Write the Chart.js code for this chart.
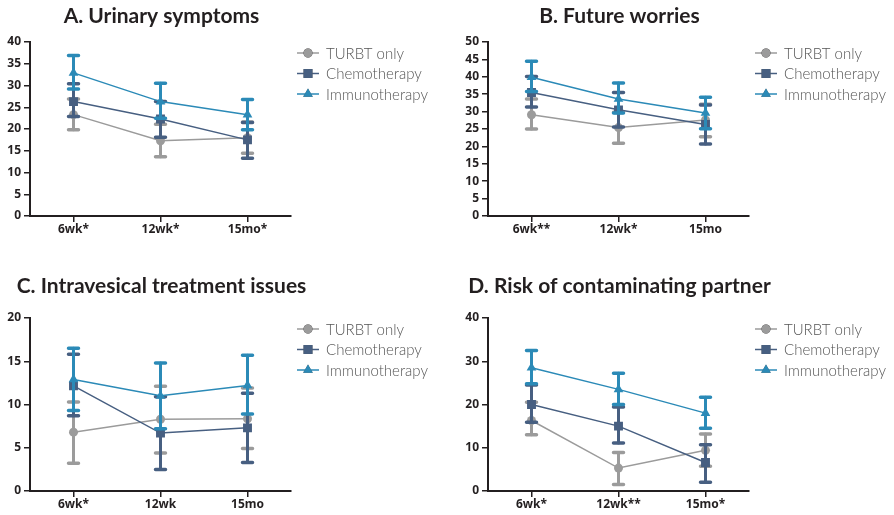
<!DOCTYPE html>
<html>
<head>
<meta charset="utf-8">
<script src="https://cdn.jsdelivr.net/npm/chart.js@4.4.1/dist/chart.umd.min.js"></script>
<style>
  html, body { margin: 0; padding: 0; background: #fff; }
  #wrap { position: relative; width: 894px; height: 515px; }
  .panel { position: absolute; width: 447px; }
  .panel canvas { display: block; }
</style>
</head>
<body>
<div id="wrap">
  <div class="panel" style="left:0;top:0;height:258px"><canvas id="chartA"></canvas></div>
  <div class="panel" style="left:447px;top:0;height:258px"><canvas id="chartB"></canvas></div>
  <div class="panel" style="left:0;top:258px;height:257px"><canvas id="chartC"></canvas></div>
  <div class="panel" style="left:447px;top:258px;height:257px"><canvas id="chartD"></canvas></div>
</div>
<script>
const seriesNames = ['TURBT only', 'Chemotherapy', 'Immunotherapy'];
const seriesColors = ['#9b9b9b', '#475f81', '#2b8ab7'];
const seriesMarkers = ['circle', 'rect', 'triangle'];

// A. Urinary symptoms
const labelsA = ['6wk*', '12wk*', '15mo*'];
const urinaryTurbt = [23.3, 17.3, 18.0];
const urinaryTurbtLow = [19.8, 13.6, 14.4];
const urinaryTurbtHigh = [26.9, 21.1, 21.6];
const urinaryChemo = [26.3, 22.3, 17.5];
const urinaryChemoLow = [22.9, 18.1, 13.3];
const urinaryChemoHigh = [30.4, 26.3, 21.5];
const urinaryImmuno = [32.9, 26.3, 23.3];
const urinaryImmunoLow = [29.2, 22.5, 19.8];
const urinaryImmunoHigh = [36.9, 30.5, 26.8];

// B. Future worries
const labelsB = ['6wk**', '12wk*', '15mo'];
const worriesTurbt = [29.1, 25.4, 27.6];
const worriesTurbtLow = [25.0, 20.9, 22.8];
const worriesTurbtHigh = [33.6, 29.8, 32.1];
const worriesChemo = [35.5, 30.5, 26.3];
const worriesChemoLow = [31.3, 25.6, 20.7];
const worriesChemoHigh = [40.1, 35.5, 31.9];
const worriesImmuno = [39.9, 33.6, 29.6];
const worriesImmunoLow = [35.8, 29.6, 25.1];
const worriesImmunoHigh = [44.5, 38.2, 34.1];

// C. Intravesical treatment issues
const labelsC = ['6wk*', '12wk', '15mo'];
const intraTurbt = [6.8, 8.3, 8.35];
const intraTurbtLow = [3.2, 4.4, 4.9];
const intraTurbtHigh = [10.3, 12.1, 11.9];
const intraChemo = [12.15, 6.7, 7.3];
const intraChemoLow = [8.7, 2.5, 3.3];
const intraChemoHigh = [15.8, 10.9, 11.3];
const intraImmuno = [12.9, 11.0, 12.2];
const intraImmunoLow = [9.3, 7.2, 8.9];
const intraImmunoHigh = [16.5, 14.8, 15.7];

// D. Risk of contaminating partner
const labelsD = ['6wk*', '12wk**', '15mo*'];
const riskTurbt = [16.3, 5.3, 9.4];
const riskTurbtLow = [13.0, 1.5, 5.7];
const riskTurbtHigh = [20.5, 8.9, 13.2];
const riskChemo = [20.0, 15.0, 6.6];
const riskChemoLow = [15.9, 11.1, 2.0];
const riskChemoHigh = [24.5, 19.4, 10.7];
const riskImmuno = [28.5, 23.5, 18.0];
const riskImmunoLow = [24.8, 20.0, 14.5];
const riskImmunoHigh = [32.5, 27.2, 21.7];

const inkColor = '#231f20';

// error bars are drawn just before each dataset's own line + markers
const errorBarPlugin = {
    id: 'errorBars',
    beforeDatasetDraw(chart, args) {
        const ds = chart.data.datasets[args.index];
        if (!ds.errLow) return;
        const yScale = chart.scales.y;
        const ctx = chart.ctx;
        ctx.save();
        ctx.strokeStyle = ds.borderColor;
        ctx.lineCap = 'round';
        args.meta.data.forEach((pt, i) => {
            const yLo = yScale.getPixelForValue(ds.errLow[i]);
            const yHi = yScale.getPixelForValue(ds.errHigh[i]);
            ctx.lineWidth = 3;
            ctx.beginPath();
            ctx.moveTo(pt.x, yLo);
            ctx.lineTo(pt.x, yHi);
            ctx.stroke();
            ctx.lineWidth = 3.5;
            ctx.beginPath();
            ctx.moveTo(pt.x - 5, yLo);
            ctx.lineTo(pt.x + 5, yLo);
            ctx.moveTo(pt.x - 5, yHi);
            ctx.lineTo(pt.x + 5, yHi);
            ctx.stroke();
        });
        ctx.restore();
    }
};

// panel title (centred over plot area) and legend to the right of it
const panelDecorPlugin = {
    id: 'panelDecor',
    afterDraw(chart, args, opts) {
        const ctx = chart.ctx;
        const area = chart.chartArea;
        ctx.save();
        ctx.fillStyle = inkColor;
        ctx.font = 'bold 21px Lato';
        ctx.textAlign = 'center';
        ctx.textBaseline = 'alphabetic';
        ctx.fillText(opts.title, (area.left + area.right) / 2 + 1, area.top - opts.titleGap);

        const x0 = area.right + 6;
        [0, 1, 2].forEach((k, row) => {
            const ds = chart.data.datasets[k];
            const y = area.top + 11 + row * 20.5;
            ctx.strokeStyle = ds.borderColor;
            ctx.lineWidth = 1.5;
            ctx.beginPath();
            ctx.moveTo(x0, y);
            ctx.lineTo(x0 + 22, y);
            ctx.stroke();
            Chart.helpers.drawPoint(ctx, {
                pointStyle: ds.pointStyle,
                radius: ds.pointRadius,
                borderWidth: 0
            }, x0 + 11, y);
            ctx.fillStyle = ds.borderColor;
            ctx.fill();
            ctx.fillStyle = '#555555';
            ctx.font = '300 15px Lato';
            ctx.textAlign = 'left';
            ctx.textBaseline = 'middle';
            ctx.fillText(ds.label, x0 + 29, y + 1);
        });
        ctx.restore();
    }
};

function makeDatasets(means, lows, highs) {
    return means.map((m, k) => ({
        label: seriesNames[k],
        data: m,
        errLow: lows[k],
        errHigh: highs[k],
        borderColor: seriesColors[k],
        backgroundColor: seriesColors[k],
        borderWidth: 1.5,
        pointStyle: seriesMarkers[k],
        pointRadius: [4.5, 6.3, 5.6][k],
        pointBorderWidth: 0,
        order: 3 - k,
        tension: 0
    }));
}

const tickFont = { family: 'Noto Sans', weight: 'bold', size: 12 };

function makeChart(id, title, labels, means, lows, highs, yMax, yStep, pad, yWidth, xHeight) {
    new Chart(document.getElementById(id), {
        type: 'line',
        data: { labels: labels, datasets: makeDatasets(means, lows, highs) },
        plugins: [errorBarPlugin, panelDecorPlugin],
        options: {
            responsive: true,
            maintainAspectRatio: false,
            animation: false,
            layout: { padding: pad },
            plugins: {
                legend: { display: false },
                tooltip: { enabled: false },
                panelDecor: { title: title, titleGap: pad.top > 50 ? 25 : 19 }
            },
            scales: {
                x: {
                    type: 'category',
                    offset: true,
                    grid: { display: true, drawOnChartArea: false, offset: false, tickLength: 6, color: inkColor, lineWidth: 1.5 },
                    border: { color: inkColor, width: 2 },
                    ticks: { color: inkColor, font: tickFont, padding: 0, maxRotation: 0 },
                    afterFit: s => { s.height = xHeight; }
                },
                y: {
                    min: 0,
                    max: yMax,
                    grid: { display: true, drawOnChartArea: false, tickLength: 6, color: inkColor, lineWidth: 1.5 },
                    border: { color: inkColor, width: 2 },
                    ticks: { stepSize: yStep, color: inkColor, font: tickFont, padding: 3 },
                    afterFit: s => { s.width = yWidth; }
                }
            }
        }
    });
}

makeChart('chartA', 'A. Urinary symptoms', labelsA,
    [urinaryTurbt, urinaryChemo, urinaryImmuno],
    [urinaryTurbtLow, urinaryChemoLow, urinaryImmunoLow],
    [urinaryTurbtHigh, urinaryChemoHigh, urinaryImmunoHigh],
    40, 5, { left: 0, right: 156, top: 42, bottom: 12 }, 30, 30);

makeChart('chartB', 'B. Future worries', labelsB,
    [worriesTurbt, worriesChemo, worriesImmuno],
    [worriesTurbtLow, worriesChemoLow, worriesImmunoLow],
    [worriesTurbtHigh, worriesChemoHigh, worriesImmunoHigh],
    50, 5, { left: 0, right: 145, top: 42, bottom: 12 }, 41, 30);

makeChart('chartC', 'C. Intravesical treatment issues', labelsC,
    [intraTurbt, intraChemo, intraImmuno],
    [intraTurbtLow, intraChemoLow, intraImmunoLow],
    [intraTurbtHigh, intraChemoHigh, intraImmunoHigh],
    20, 5, { left: 0, right: 156, top: 60, bottom: 0 }, 30, 24);

makeChart('chartD', 'D. Risk of contaminating partner', labelsD,
    [riskTurbt, riskChemo, riskImmuno],
    [riskTurbtLow, riskChemoLow, riskImmunoLow],
    [riskTurbtHigh, riskChemoHigh, riskImmunoHigh],
    40, 10, { left: 0, right: 145, top: 60, bottom: 0 }, 41, 24);
</script>
</body>
</html>
